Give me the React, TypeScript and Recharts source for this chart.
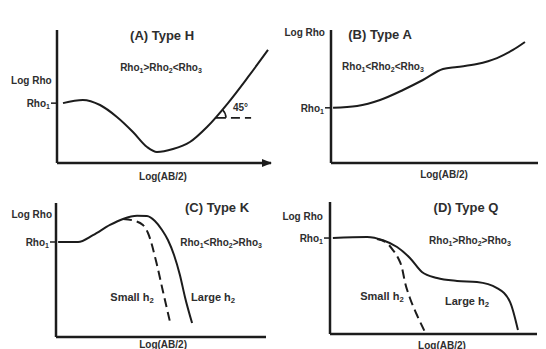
import React from 'react';
import { LineChart, Line, XAxis, YAxis, ReferenceDot, ReferenceLine } from 'recharts';

type Pt = { x: number; y: number };

// Axis units: Log(AB/2) and Log Rho, both on a 0–10 schematic scale per panel.

// (A) Type H
const typeHCurve: Pt[] = [
  { x: 0.28, y: 4.5 }, { x: 1.21, y: 4.74 }, { x: 2.01, y: 4.36 }, { x: 2.8, y: 3.46 },
  { x: 3.55, y: 2.33 }, { x: 4.21, y: 1.2 }, { x: 4.67, y: 0.83 }, { x: 5.42, y: 1.05 },
  { x: 6.21, y: 1.58 }, { x: 7.01, y: 2.71 }, { x: 7.99, y: 4.51 }, { x: 8.93, y: 6.47 },
  { x: 9.86, y: 8.5 },
];
const typeHRho1 = 4.5;
const typeHAngleStart: Pt = { x: 7.38, y: 3.4 };
const typeHAngleEndX = 9.07;

// (B) Type A
const typeACurve: Pt[] = [
  { x: 0.1, y: 4.15 }, { x: 1.26, y: 4.29 }, { x: 2.37, y: 4.74 }, { x: 3.48, y: 5.49 },
  { x: 4.44, y: 6.24 }, { x: 5.41, y: 7.07 }, { x: 6.09, y: 7.22 }, { x: 7.05, y: 7.44 },
  { x: 8.02, y: 7.89 }, { x: 8.79, y: 8.5 }, { x: 9.37, y: 9.1 },
];
const typeARho1 = 4.15;

// (C) Type K
const typeKLarge: Pt[] = [
  { x: 0.1, y: 7.09 }, { x: 1.05, y: 7.09 }, { x: 1.76, y: 7.6 }, { x: 2.57, y: 8.36 },
  { x: 3.19, y: 8.81 }, { x: 3.86, y: 9.05 }, { x: 4.33, y: 9.03 }, { x: 4.71, y: 8.66 },
  { x: 5.05, y: 7.99 }, { x: 5.33, y: 7.24 }, { x: 5.62, y: 6.12 }, { x: 5.9, y: 4.63 },
  { x: 6.14, y: 2.99 }, { x: 6.48, y: 1.04 },
];
const typeKSmall: Pt[] = [
  { x: 3.19, y: 8.81 }, { x: 3.67, y: 8.7 }, { x: 4.14, y: 8.36 }, { x: 4.38, y: 7.76 },
  { x: 4.81, y: 5.37 }, { x: 5.1, y: 3.36 }, { x: 5.43, y: 1.12 },
];
const typeKRho1 = 7.09;

// (D) Type Q
const typeQLarge: Pt[] = [
  { x: 0.14, y: 7.27 }, { x: 1.79, y: 7.35 }, { x: 2.56, y: 7.1 }, { x: 3.24, y: 6.59 },
  { x: 3.86, y: 5.76 }, { x: 4.44, y: 4.7 }, { x: 5.17, y: 4.24 }, { x: 6.14, y: 4.02 },
  { x: 7.1, y: 3.94 }, { x: 8.07, y: 3.48 }, { x: 8.7, y: 2.42 }, { x: 9.08, y: 0.3 },
];
const typeQSmall: Pt[] = [
  { x: 2.27, y: 7.2 }, { x: 2.75, y: 6.89 }, { x: 3.04, y: 6.36 }, { x: 3.29, y: 5.76 },
  { x: 3.48, y: 5.0 }, { x: 3.62, y: 3.94 }, { x: 3.86, y: 2.73 }, { x: 4.2, y: 1.44 },
  { x: 4.59, y: 0.15 },
];
const typeQRho1 = 7.27;

// Text
const titles = ['(A) Type H', '(B) Type A', '(C) Type K', '(D) Type Q'];
const relations = ['Rho_1>Rho_2<Rho_3', 'Rho_1<Rho_2<Rho_3', 'Rho_1<Rho_2>Rho_3', 'Rho_1>Rho_2>Rho_3'];
const yTitle = 'Log Rho';
const xTitle = 'Log(AB/2)';
const rho1Label = 'Rho_1';
const smallLabel = 'Small h_2';
const largeLabel = 'Large h_2';
const angleLabel = '45°';

const INK = '#1c1c1c';
const TEXT = '#2e2e2e';
const FONT = '"Liberation Sans", Arial, sans-serif';

// Renders "Rho_1" style strings with the digit after "_" as a subscript.
function rich(text: string, size: number) {
  const parts = text.split(/_(\d)/);
  const out: React.ReactNode[] = [];
  let shift = 0;
  parts.forEach((p, i) => {
    if (i % 2 === 1) {
      out.push(<tspan key={i} fontSize={size * 0.7} dy={3 - shift}>{p}</tspan>);
      shift = 3;
    } else if (p.length > 0) {
      out.push(<tspan key={i} dy={-shift}>{p}</tspan>);
      shift = 0;
    }
  });
  return out;
}

type Note = {
  text: string;
  x: number;
  y: number;
  size: number;
  anchor?: 'start' | 'middle' | 'end';
};

type PanelCfg = {
  margin: { top: number; left: number; right: number; bottom: number };
  solid: Pt[];
  dashed?: Pt[];
  rho1: number;
  notes: Note[];
  arrow?: boolean;
  angle?: boolean;
};

// Margins leave room for the 1px-wide axes, so the plot areas land on the panel frames.
const panels: PanelCfg[] = [
  {
    margin: { top: 30, left: 56, right: 275, bottom: 185 },
    solid: typeHCurve,
    rho1: typeHRho1,
    arrow: true,
    angle: true,
    notes: [
      { text: titles[0], x: 4.91, y: 9.62, size: 13 },
      { text: relations[0], x: 4.86, y: 7.22, size: 10 },
      { text: yTitle, x: -0.25, y: 6.24, size: 10, anchor: 'end' },
      { text: xTitle, x: 4.95, y: -0.95, size: 10 },
      { text: angleLabel, x: 8.22, y: 4.21, size: 10, anchor: 'start' },
    ],
  },
  {
    margin: { top: 30, left: 330, right: 8, bottom: 185 },
    solid: typeACurve,
    rho1: typeARho1,
    notes: [
      { text: titles[1], x: 2.37, y: 9.72, size: 13 },
      { text: relations[1], x: 2.51, y: 7.29, size: 10 },
      { text: yTitle, x: -0.29, y: 9.85, size: 10, anchor: 'end' },
      { text: xTitle, x: 5.46, y: -0.85, size: 10 },
    ],
  },
  {
    margin: { top: 203, left: 55, right: 280, bottom: 11 },
    solid: typeKLarge,
    dashed: typeKSmall,
    rho1: typeKRho1,
    notes: [
      { text: titles[2], x: 7.67, y: 9.7, size: 13 },
      { text: relations[2], x: 7.86, y: 7.09, size: 10 },
      { text: smallLabel, x: 3.62, y: 2.99, size: 11 },
      { text: largeLabel, x: 7.48, y: 2.99, size: 11 },
      { text: yTitle, x: -0.19, y: 9.18, size: 10, anchor: 'end' },
      { text: xTitle, x: 5.1, y: -0.55, size: 10 },
    ],
  },
  {
    margin: { top: 202, left: 329, right: 9, bottom: 14 },
    solid: typeQLarge,
    dashed: typeQSmall,
    rho1: typeQRho1,
    notes: [
      { text: titles[3], x: 6.57, y: 9.62, size: 13 },
      { text: relations[3], x: 6.76, y: 7.12, size: 10 },
      { text: smallLabel, x: 2.51, y: 2.88, size: 11 },
      { text: largeLabel, x: 6.62, y: 2.5, size: 11 },
      { text: yTitle, x: -0.34, y: 8.94, size: 10, anchor: 'end' },
      { text: xTitle, x: 5.41, y: -0.8, size: 10 },
    ],
  },
];

function Rho1Tick(props: any) {
  const { y, x } = props;
  return (
    <g>
      <line x1={x - 6} x2={x} y1={y} y2={y} stroke={INK} strokeWidth={1.5} />
      <text
        x={x - 7}
        y={y}
        textAnchor="end"
        dominantBaseline="central"
        fontFamily={FONT}
        fontWeight="bold"
        fontSize={10}
        fill={TEXT}
      >
        {rich(rho1Label, 10)}
      </text>
    </g>
  );
}

function Panel({ cfg }: { cfg: PanelCfg }) {
  const axisLine = { stroke: INK, strokeWidth: 2.5 };
  return (
    <div style={{ position: 'absolute', left: 0, top: 0 }}>
      <LineChart width={546} height={349} margin={cfg.margin} data={cfg.solid}>
        <XAxis
          type="number"
          dataKey="x"
          domain={[0, 10]}
          allowDataOverflow
          height={1}
          tick={false}
          tickLine={false}
          axisLine={axisLine}
        />
        <YAxis
          type="number"
          dataKey="y"
          domain={[0, 10]}
          allowDataOverflow
          width={1}
          ticks={[cfg.rho1]}
          tickLine={false}
          tickSize={0}
          tickMargin={0}
          tick={<Rho1Tick />}
          axisLine={axisLine}
        />
        <Line
          data={cfg.solid}
          dataKey="y"
          type="monotone"
          stroke={INK}
          strokeWidth={2}
          dot={false}
          isAnimationActive={false}
        />
        {cfg.dashed && (
          <Line
            data={cfg.dashed}
            dataKey="y"
            type="monotone"
            stroke={INK}
            strokeWidth={2}
            strokeDasharray="9 5"
            dot={false}
            isAnimationActive={false}
          />
        )}
        {cfg.angle && (
          <ReferenceLine
            segment={[
              { x: typeHAngleStart.x, y: typeHAngleStart.y },
              { x: typeHAngleEndX, y: typeHAngleStart.y },
            ]}
            stroke={INK}
            strokeWidth={1.8}
            strokeDasharray="11 5 9 5"
            ifOverflow="visible"
          />
        )}
        {cfg.angle && (
          <ReferenceDot
            x={typeHAngleStart.x}
            y={typeHAngleStart.y}
            r={1}
            ifOverflow="visible"
            shape={(p: any) => (
              <path
                d={`M ${p.cx + 7.8} ${p.cy - 7.8} A 11 11 0 0 1 ${p.cx + 11} ${p.cy}`}
                fill="none"
                stroke={INK}
                strokeWidth={1.6}
              />
            )}
          />
        )}
        {cfg.arrow && (
          <ReferenceDot
            x={10}
            y={0}
            r={1}
            ifOverflow="visible"
            shape={(p: any) => (
              <path
                d={`M ${p.cx + 1} ${p.cy} L ${p.cx - 9} ${p.cy - 4} L ${p.cx - 9} ${p.cy + 4} Z`}
                fill={INK}
              />
            )}
          />
        )}
        {cfg.notes.map((n, i) => (
          <ReferenceDot
            key={i}
            x={n.x}
            y={n.y}
            r={1}
            ifOverflow="visible"
            shape={(p: any) => (
              <text
                x={p.cx}
                y={p.cy}
                textAnchor={n.anchor ?? 'middle'}
                dominantBaseline="central"
                fontFamily={FONT}
                fontWeight="bold"
                fontSize={n.size}
                fill={TEXT}
              >
                {rich(n.text, n.size)}
              </text>
            )}
          />
        ))}
      </LineChart>
    </div>
  );
}

export default function App() {
  return (
    <div
      style={{
        position: 'absolute',
        left: 0,
        top: 0,
        width: 546,
        height: 349,
        background: '#fff',
        overflow: 'hidden',
      }}
    >
      {panels.map((cfg, i) => (
        <Panel key={i} cfg={cfg} />
      ))}
    </div>
  );
}
